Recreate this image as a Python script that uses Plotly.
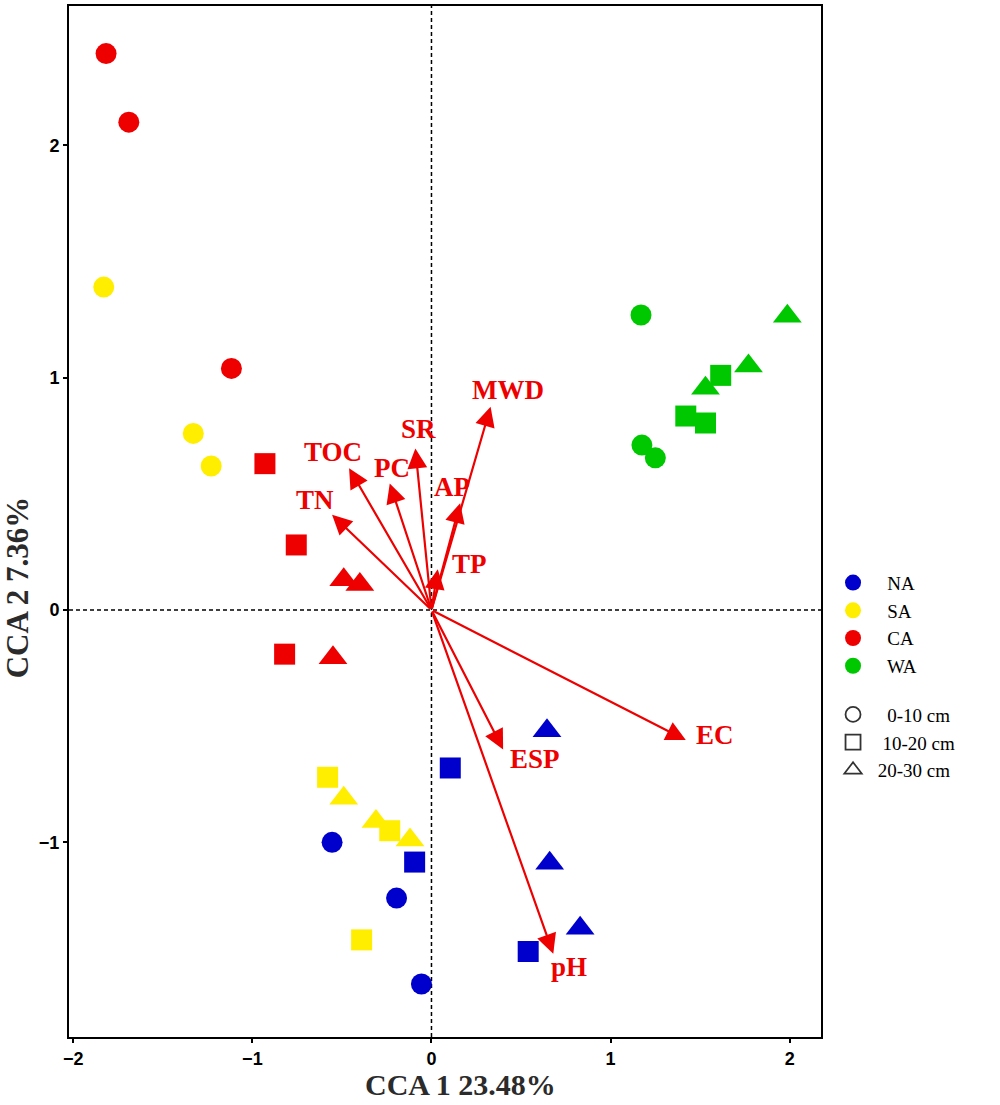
import plotly.graph_objects as go

# site scores (CCA1, CCA2)
sites = ['NA', 'SA', 'CA', 'WA']
depths = ['0-10 cm', '10-20 cm', '20-30 cm']

na_x = [-0.555, -0.195, -0.056, 0.105, -0.094, 0.54, 0.645, 0.66, 0.83]
na_y = [-1.0, -1.24, -1.61, -0.68, -1.085, -1.47, -0.52, -1.09, -1.37]
sa_x = [-1.83, -1.33, -1.23, -0.58, -0.233, -0.39, -0.49, -0.31, -0.12]
sa_y = [1.39, 0.76, 0.62, -0.72, -0.95, -1.42, -0.81, -0.91, -0.99]
ca_x = [-1.817, -1.69, -1.117, -0.93, -0.755, -0.82, -0.49, -0.40, -0.55]
ca_y = [2.395, 2.10, 1.04, 0.63, 0.28, -0.19, 0.13, 0.11, -0.205]
wa_x = [1.17, 1.175, 1.25, 1.42, 1.53, 1.615, 1.987, 1.53, 1.77]
wa_y = [1.27, 0.71, 0.655, 0.835, 0.805, 1.01, 1.265, 0.955, 1.05]
# depth of each sample, in the same order
sample_depth = ['0-10 cm'] * 3 + ['10-20 cm'] * 3 + ['20-30 cm'] * 3

# environmental vectors
env_vars = ['MWD', 'SR', 'TOC', 'PC', 'AP', 'TN', 'TP', 'ESP', 'EC', 'pH']
env_x = [0.33, -0.09, -0.46, -0.233, 0.16, -0.555, 0.035, 0.40, 1.42, 0.68]
env_y = [0.875, 0.695, 0.61, 0.545, 0.46, 0.41, 0.175, -0.60, -0.56, -1.48]
label_x = [0.43, -0.07, -0.55, -0.22, 0.115, -0.65, 0.21, 0.58, 1.585, 0.77]
label_y = [0.945, 0.78, 0.68, 0.61, 0.53, 0.475, 0.20, -0.64, -0.54, -1.535]

site_colors = {'NA': '#0000CD', 'SA': '#FFEE00', 'CA': '#EE0000', 'WA': '#00C800'}
depth_symbols = {'0-10 cm': 'circle', '10-20 cm': 'square', '20-30 cm': 'triangle-up'}
depth_sizes = {'0-10 cm': 21, '10-20 cm': 21, '20-30 cm': 25}
arrow_red = '#EE0000'

site_xy = {'NA': (na_x, na_y), 'SA': (sa_x, sa_y), 'CA': (ca_x, ca_y), 'WA': (wa_x, wa_y)}

fig = go.Figure()

# zero reference lines
fig.add_vline(x=0, line=dict(color='black', width=1.5, dash='4px,3px'), layer='below')
fig.add_hline(y=0, line=dict(color='black', width=1.5, dash='4px,3px'), layer='below')

for s in sites:
    xs, ys = site_xy[s]
    for d in depths:
        idx = [i for i, dd in enumerate(sample_depth) if dd == d]
        fig.add_trace(go.Scatter(
            x=[xs[i] for i in idx], y=[ys[i] for i in idx],
            mode='markers', showlegend=False, hoverinfo='skip',
            marker=dict(color=site_colors[s], symbol=depth_symbols[d],
                        size=depth_sizes[d], line=dict(width=0))))

# legend entries
for s in sites:
    fig.add_trace(go.Scatter(
        x=[None], y=[None], mode='markers', name='   ' + s,
        legendgroup='site', marker=dict(color=site_colors[s], symbol='circle', size=16)))
depth_names = ['   0-10 cm', '  10-20 cm', ' 20-30 cm']
for d, nm in zip(depths, depth_names):
    fig.add_trace(go.Scatter(
        x=[None], y=[None], mode='markers', name=nm,
        legendgroup='depth',
        marker=dict(color='rgba(0,0,0,0)', symbol=depth_symbols[d], size=15,
                    line=dict(color='#333333', width=1.8))))

# arrows and labels
for v, ex, ey, lx, ly in zip(env_vars, env_x, env_y, label_x, label_y):
    fig.add_annotation(x=ex, y=ey, ax=0, ay=0, xref='x', yref='y', axref='x', ayref='y',
                       text='', showarrow=True, arrowhead=2, arrowsize=1.8,
                       arrowwidth=2.2, arrowcolor=arrow_red, standoff=0)
    fig.add_annotation(x=lx, y=ly, xref='x', yref='y', text=v, showarrow=False,
                       font=dict(family='Liberation Serif', size=27, color=arrow_red, weight='bold'))

# axis titles
fig.add_annotation(x=0.52, y=-0.0465, xref='paper', yref='paper', text='CCA 1 23.48%',
                   showarrow=False, xanchor='center', yanchor='middle', borderpad=0,
                   font=dict(family='Liberation Serif', size=30, color='#2b2b2b', weight='bold'))
fig.add_annotation(x=-0.068, y=0.436, xref='paper', yref='paper', text='CCA 2 7.36%',
                   showarrow=False, textangle=-90, xanchor='center', yanchor='middle',
                   font=dict(family='Liberation Serif', size=31, color='#2b2b2b', weight='bold'))

axis_style = dict(showgrid=False, zeroline=False, showline=True, linecolor='black',
                  linewidth=2, mirror=True, ticks='outside', ticklen=4, tickwidth=1.5,
                  tickcolor='black',
                  tickfont=dict(family='Liberation Sans', size=18, color='black', weight='bold'))

fig.update_xaxes(range=[-2.024, 2.175], tickvals=[-2, -1, 0, 1, 2], **axis_style)
fig.update_yaxes(range=[-1.838, 2.60], tickvals=[-1, 0, 1, 2], **axis_style)

fig.update_layout(
    width=1000, height=1105,
    margin=dict(l=69, r=179, t=4, b=68),
    plot_bgcolor='white', paper_bgcolor='white',
    legend=dict(x=1.016, y=0.459, xanchor='left', yanchor='top',
                font=dict(family='Liberation Serif', size=19, color='black'),
                tracegroupgap=21, traceorder='grouped', bgcolor='rgba(0,0,0,0)'),
)

# drop the page's default body margin so the figure sits at the window corner
fig.write_html("out.html", config={'displayModeBar': False},
               post_script="document.body.style.margin='0px';")
